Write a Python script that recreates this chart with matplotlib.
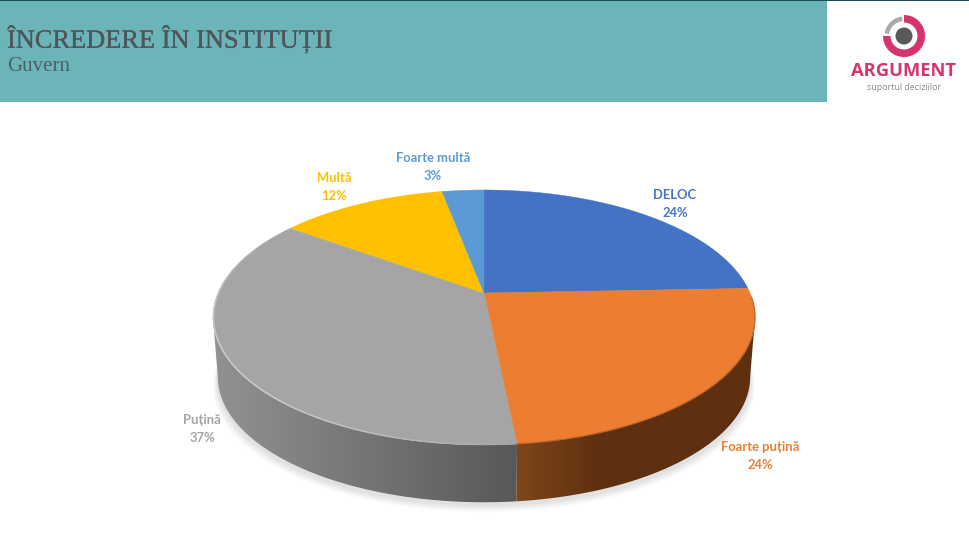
#!/usr/bin/env python
"""Trust in institutions: 3D-looking pie drawn by hand, since matplotlib has no pie3d."""
import numpy as np
import matplotlib
matplotlib.use("Agg")
import matplotlib.pyplot as plt
import matplotlib.patheffects as pe
from matplotlib.colors import to_rgb
from matplotlib.patches import Rectangle, Wedge, Circle, Polygon

TITLE = "ÎNCREDERE ÎN INSTITUȚII"
SUBTITLE = "Guvern"
categories = ["DELOC", "Foarte puțină", "Puțină", "Multă", "Foarte multă"]
values = [24.4, 24.0, 36.6, 12.0, 3.0]       # slice sizes as measured on the picture
pct_labels = ["24%", "24%", "37%", "12%", "3%"]

COLORS = ["#4472C4", "#ED7D31", "#A5A5A5", "#FFC000", "#5B9BD5"]
LABEL_XY = [(675, 204), (760, 456), (202, 429), (334, 187), (433, 167)]

# projection of the unit disc onto the slide (pixel coordinates)
CX, CY = 484.0, 293.0
A, B, K = 266.0, 122.8, 0.192
DEPTH, SHRINK = 60.0, 0.982
SIDE_ANGLE = np.degrees(np.arccos(-K))       # where the disc is widest on screen


def project(theta, r=1.0, lower=False):
    """theta in degrees, clockwise from 12 o'clock."""
    t = np.radians(theta)
    x, y = r * np.sin(t), r * np.cos(t)
    px = A * x / (1 + K * y)
    py = B * y / (1 + K * y)
    if lower:
        return CX + SHRINK * px, CY - SHRINK * py + DEPTH
    return CX + px, CY - py


def mix(c1, c2, f):
    c1, c2 = np.array(to_rgb(c1)), np.array(to_rgb(c2))
    return c1 + (c2 - c1) * np.clip(f, 0, 1)[:, None]


def wall(a0, a1, x0, x1, c_left, c_right):
    """Wall section between two angles, with a left-to-right gradient clipped to its outline."""
    grid = np.linspace(a0, a1, 200)
    tx, ty = project(grid)
    bx, by = project(grid, lower=True)
    poly = Polygon(np.c_[np.r_[tx, bx[::-1]], np.r_[ty, by[::-1]]], closed=True, fc="none", ec="none", transform=ax.transData)
    ax.add_patch(poly)
    xs = np.arange(int(tx.min()) - 2, int(tx.max()) + 3)
    grad = mix(c_left, c_right, (xs - x0) / (x1 - x0))[None, :, :]
    im = ax.imshow(grad, extent=(xs[0], xs[-1], 520, 280), aspect="auto", interpolation="bilinear", zorder=2)
    im.set_clip_path(poly)


fig = plt.figure(figsize=(9.70, 5.47), dpi=100)
ax = fig.add_axes([0, 0, 1, 1])
ax.set_xlim(0, 970); ax.set_ylim(547, 0); ax.axis("off")

# header
ax.add_patch(Rectangle((0, 0), 827, 102, fc="#6BB5B8", ec="none"))
ax.add_patch(Rectangle((0, 0), 970, 1.4, fc="#1E4A52", ec="none"))
heavier = [pe.withStroke(linewidth=0.15, foreground="#4F5459")]
ax.text(7, 39.5, TITLE, family="Liberation Serif", fontsize=19, color="#4F5459", va="center", ha="left", path_effects=heavier)
ax.text(7, 66.5, SUBTITLE, family="Liberation Serif", fontsize=15, color="#4F5F66", va="center", ha="left")

# logo
ax.add_patch(Wedge((904, 36), 21, -90, 180, width=7.5, fc="#D6336F", ec="none"))
ax.add_patch(Wedge((904, 36), 19.5, 188, 264, width=4.5, fc="#A9A9A9", ec="none"))
ax.add_patch(Circle((904, 36), 8.5, fc="#58595B", ec="none"))
ax.text(904, 71, "ARGUMENT", family="Open Sans", weight="bold", fontsize=13.2, color="#D6336F", ha="center", va="center")
ax.text(904, 87, "suportul deciziilor", family="Open Sans", fontsize=6.4, color="#8A8A8A", ha="center", va="center")

# soft shadow under the pie
th = np.linspace(0, 360, 361)
for i in range(10):
    sx, sy = project(th, lower=True)
    grow = 1 + (10 - i) * 0.0018
    ax.fill(CX + (sx - CX) * grow, sy + 3 + (10 - i) * 0.7, fc="#000000", alpha=0.012, ec="none", zorder=1)

edges = 360 * np.cumsum([0] + values) / sum(values)

# outer wall, only the part that faces the viewer
wall(SIDE_ANGLE, edges[2], 517, 600, "#7E4619", "#5E3010")
wall(edges[2], 360 - SIDE_ANGLE, 213, 517, "#929292", "#585858")

# top face
for i, col in enumerate(COLORS):
    grid = np.linspace(edges[i], edges[i + 1], 150)
    px, py = project(grid)
    ax.fill(np.r_[CX, px], np.r_[CY, py], fc=col, ec=col, lw=0.3, zorder=3)

# rim bevel
grid = np.linspace(edges[2], 300, 80)
for t0, t1 in zip(grid[:-1], grid[1:]):
    px, py = project(np.array([t0, t1]), r=0.998)
    ax.plot(px, py, color="#D0D0D0", lw=1.1, alpha=float(0.9 * np.sin(np.radians((t0 - edges[2]) * 180 / (300 - edges[2])))), zorder=4, solid_capstyle="butt")
grid = np.linspace(92, edges[2], 90)
px, py = project(grid, r=1.0)
ax.plot(px, py, color="#A85A24", lw=1.0, alpha=0.7, zorder=4)

# data labels
for name, pct, col, (lx, ly) in zip(categories, pct_labels, COLORS, LABEL_XY):
    ax.text(lx, ly - 9, name, family="Lato", weight="bold", fontsize=9.4, color=col, ha="center", va="center", zorder=5)
    ax.text(lx, ly + 9, pct, family="Lato", weight="bold", fontsize=9.4, color=col, ha="center", va="center", zorder=5)

ax.set_xlim(0, 970); ax.set_ylim(547, 0)
fig.savefig("out.png", dpi=100, facecolor="white")
